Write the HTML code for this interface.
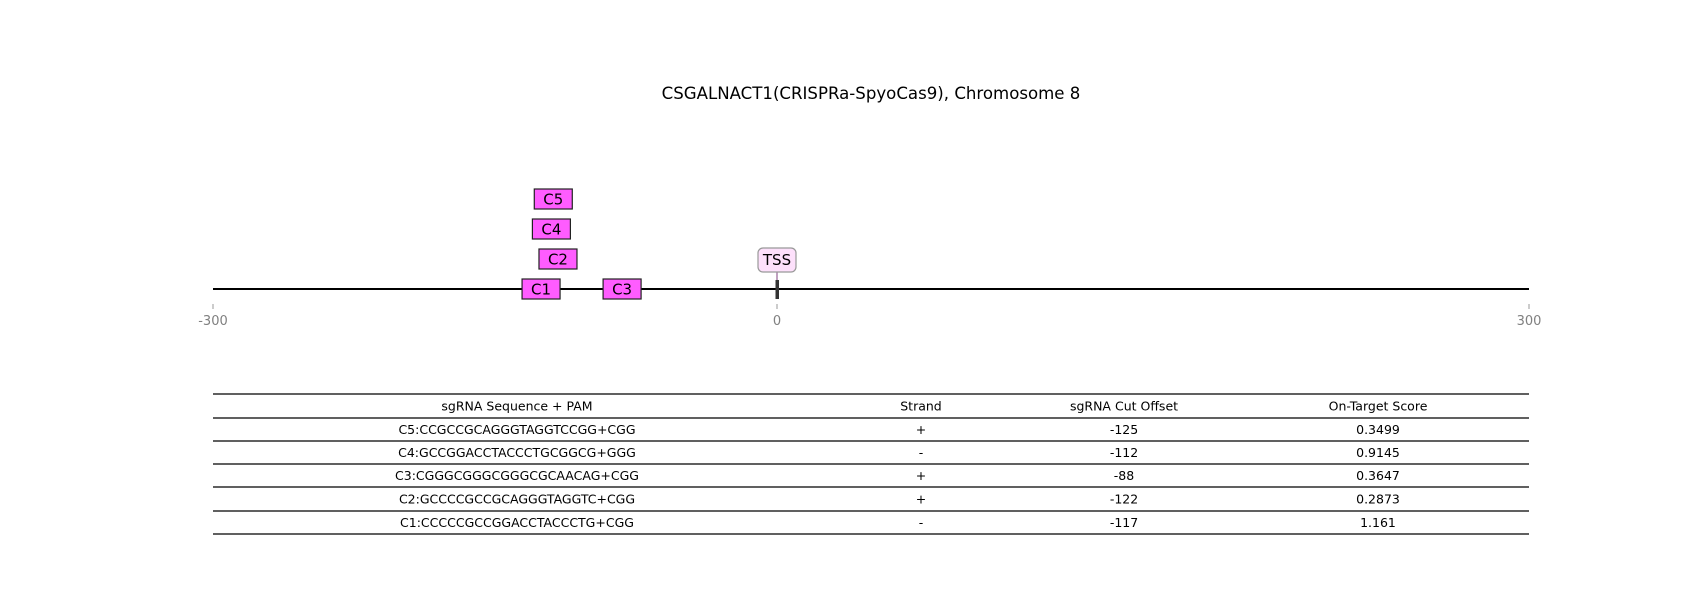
<!DOCTYPE html>
<html><head><meta charset="utf-8"><style>
body{margin:0;background:#fff;}
svg{display:block;font-family:"DejaVu Sans","Liberation Sans",sans-serif;}
</style></head><body>
<svg id="chart" width="1700" height="600" viewBox="0 0 1700 600">
<text x="871" y="99" text-anchor="middle" font-size="16.6" fill="#000">CSGALNACT1(CRISPRa-SpyoCas9), Chromosome 8</text>
<g id="plot"></g>
<g id="table"></g>
</svg>
<script>
const guideNames = ['C1','C3','C2','C4','C5'];
const guidePos = [-125.5,-82.4,-116.5,-120,-119];
const guideRow = [0,0,1,2,3];
const tickValues = [-300,0,400];
const tickLabels = ['-300','0','300'];
const tssPos = 0;
const tableHeaders = ['sgRNA Sequence + PAM','Strand','sgRNA Cut Offset','On-Target Score'];
const seqs = ['C5:CCGCCGCAGGGTAGGTCCGG+CGG','C4:GCCGGACCTACCCTGCGGCG+GGG','C3:CGGGCGGGCGGGCGCAACAG+CGG','C2:GCCCCGCCGCAGGGTAGGTC+CGG','C1:CCCCCGCCGGACCTACCCTG+CGG'];
const strands = ['+','-','+','+','-'];
const offsets = ['-125','-112','-88','-122','-117'];
const scores = ['0.3499','0.9145','0.3647','0.2873','1.161'];

const NS='http://www.w3.org/2000/svg';
const X0=213,X1=1529,D0=-300,D1=400;
const xs=v=>X0+(v-D0)/(D1-D0)*(X1-X0);
const lineY=289,rowH=30;
const ys=r=>lineY-r*rowH;
function mk(tag,attrs,parent){const e=document.createElementNS(NS,tag);for(const k in attrs)e.setAttribute(k,attrs[k]);parent.appendChild(e);return e;}
const plot=document.getElementById('plot');
let ln=mk('line',{x1:X0,x2:X1,y1:lineY,y2:lineY,stroke:'#000','stroke-width':2},plot);


tickValues.forEach((v,i)=>{
  let t=mk('line',{x1:xs(v),x2:xs(v),y1:304,y2:309,stroke:'#999'},plot);
  
  
  let l=mk('text',{x:xs(v),y:325,'text-anchor':'middle','font-size':13,fill:'#808080'},plot);
  l.textContent=tickLabels[i];
  
  
});
let tl=mk('line',{x1:xs(tssPos),x2:xs(tssPos),y1:272,y2:281,stroke:'#804080','stroke-width':1},plot);


let tb=mk('rect',{x:xs(tssPos)-1.5,y:280,width:3.5,height:19,fill:'#333'},plot);


let tr=mk('rect',{x:xs(tssPos)-19,y:248,width:38,height:24,rx:5,fill:'#fde0fb',stroke:'#999','stroke-width':1.2},plot);


let tt=mk('text',{x:xs(tssPos),y:265,'text-anchor':'middle','font-size':15,fill:'#000'},plot);
tt.textContent='TSS';


guideNames.forEach((n,i)=>{
  const cx=xs(guidePos[i]),cy=ys(guideRow[i]);
  let r=mk('rect',{x:cx-19,y:cy-10,width:38,height:20,fill:'#ff5cff',stroke:'#222','stroke-width':1.2},plot);
  
  
  let t=mk('text',{x:cx,y:cy+5.5,'text-anchor':'middle','font-size':15,fill:'#000'},plot);
  t.textContent=n;
  
  
});
const tbl=document.getElementById('table');
const lineYs=[394,418,441,464,487,511,534];
lineYs.forEach(y=>{
  let l=mk('line',{x1:213,x2:1529,y1:y,y2:y,stroke:'#000','stroke-width':1.3},tbl);
  
  
});
const colX=[517,921,1124,1378];
const rows=[tableHeaders].concat(seqs.map((s,i)=>[s,strands[i],offsets[i],scores[i]]));
rows.forEach((row,ri)=>{
  const y=(lineYs[ri]+lineYs[ri+1])/2+4.5;
  row.forEach((c,ci)=>{
    let t=mk('text',{x:colX[ci],y:y,'text-anchor':'middle','font-size':12.5,fill:'#000'},tbl);
    t.textContent=c;
    
    
  });
});
</script>
</body></html>
